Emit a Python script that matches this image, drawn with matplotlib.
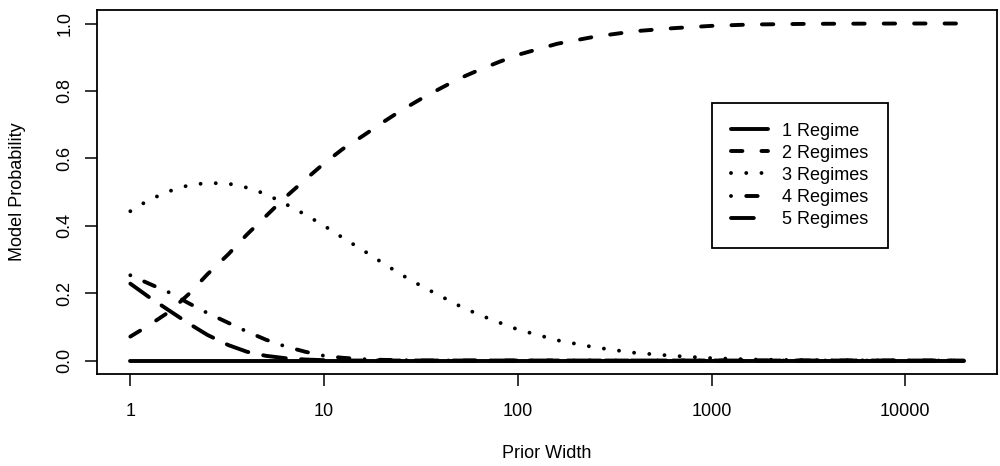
import numpy as np
import matplotlib
matplotlib.use("Agg")
import matplotlib.pyplot as plt

plt.rcParams['font.family'] = ['Liberation Sans', 'DejaVu Sans']
plt.rcParams['font.size'] = 13
plt.rcParams['lines.scale_dashes'] = False

# prior widths (log-spaced samples)
width = [1, 1.25, 1.6, 2, 2.5, 3.2, 4, 5, 6.3, 8,
         10, 12.5, 16, 20, 25, 32, 40, 50, 63, 80,
         100, 160, 250, 400, 630, 1000, 1600, 3200, 10000, 20000]

p_1regime = [0.0] * len(width)
p_2regimes = [0.071, 0.105, 0.146, 0.197, 0.256, 0.315, 0.374, 0.428, 0.484, 0.537,
              0.585, 0.628, 0.668, 0.706, 0.742, 0.778, 0.808, 0.837, 0.862, 0.886,
              0.907, 0.940, 0.961, 0.977, 0.986, 0.993, 0.997, 0.999, 1.0, 1.0]
p_3regimes = [0.443, 0.477, 0.503, 0.520, 0.527, 0.525, 0.513, 0.494, 0.465, 0.433,
              0.400, 0.364, 0.326, 0.290, 0.255, 0.220, 0.191, 0.162, 0.136, 0.113,
              0.092, 0.060, 0.039, 0.023, 0.014, 0.007, 0.003, 0.001, 0.0, 0.0]
p_4regimes = [0.253, 0.228, 0.201, 0.170, 0.141, 0.112, 0.086, 0.062, 0.042, 0.026,
              0.014, 0.008, 0.004, 0.002, 0.001, 0.0, 0.0, 0.0, 0.0, 0.0,
              0.0, 0.0, 0.0, 0.0, 0.0, 0.0, 0.0, 0.0, 0.0, 0.0]
p_5regimes = [0.228, 0.188, 0.147, 0.110, 0.076, 0.046, 0.026, 0.014, 0.007, 0.003,
              0.001, 0.0, 0.0, 0.0, 0.0, 0.0, 0.0, 0.0, 0.0, 0.0,
              0.0, 0.0, 0.0, 0.0, 0.0, 0.0, 0.0, 0.0, 0.0, 0.0]

labels = ['1 Regime', '2 Regimes', '3 Regimes', '4 Regimes', '5 Regimes']
xticks = [1, 10, 100, 1000, 10000]

# R-like line types (unit ~2.74 pt)
u = 2.74
styles = [
    None,
    (0, (3 * u, 5 * u)),
    (0, (0.01, 4 * u)),
    (0, (0.01, 4 * u, 3 * u, 4 * u)),
    (0, (6 * u, 4 * u)),
]

fig = plt.figure(figsize=(10, 4.66), dpi=100)
ax = fig.add_axes([0.097, 0.1974, 0.9, 0.7811])

series = [p_1regime, p_2regimes, p_3regimes, p_4regimes, p_5regimes]
for vals, lab, ls in zip(series, labels, styles):
    line, = ax.plot(width, vals, color='black', linewidth=2.8, label=lab,
                    solid_capstyle='round', dash_capstyle='round')
    if ls is not None:
        line.set_linestyle(ls)

ax.set_xscale('log')
lo, hi = np.log10(width[0]), np.log10(width[-1])
ext = 0.04 * (hi - lo)
ax.set_xlim(10 ** (lo - ext), 10 ** (hi + ext))
ax.set_ylim(-0.04, 1.04)

ax.set_xticks(xticks)
ax.set_xticklabels([str(t) for t in xticks])
ax.xaxis.set_minor_locator(matplotlib.ticker.NullLocator())
ax.set_yticks([0.0, 0.2, 0.4, 0.6, 0.8, 1.0])
ax.set_yticklabels(['0.0', '0.2', '0.4', '0.6', '0.8', '1.0'], rotation=90, va='center')
ax.tick_params(direction='out', length=8.6, width=1.1)
ax.tick_params(axis='x', pad=12)
ax.tick_params(axis='y', pad=8.5)

for s in ax.spines.values():
    s.set_linewidth(1.3)

ax.set_xlabel('Prior Width', labelpad=18)
ax.set_ylabel('Model Probability', labelpad=22)

leg = ax.legend(loc='upper right', bbox_to_anchor=(0.879, 0.745), borderaxespad=0,
                fancybox=False, edgecolor='black', framealpha=1,
                handlelength=2.0, handletextpad=0.8, borderpad=1.1,
                labelspacing=0.28)
leg.get_frame().set_linewidth(1.3)

fig.savefig('out.png', dpi=100)
